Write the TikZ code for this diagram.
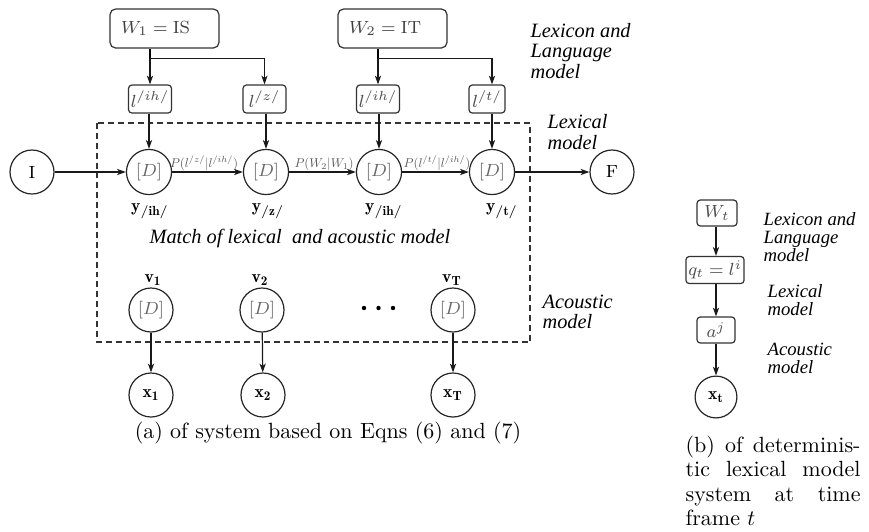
\documentclass[tikz,border=0pt]{standalone}
\usepackage{graphicx}
\usepackage{fontspec}
\newfontfamily\tmsfont{Liberation Serif}
\usetikzlibrary{arrows.meta}
\begin{document}
\begin{tikzpicture}[x=0.4545pt,y=-0.4545pt,
  line width=0.55pt,
  tip/.tip={Stealth[length=4pt,width=2.8pt,inset=1.1pt]},
  conn/.style={-tip, draw=black!90},
  lbl/.style={font=\tmsfont\itshape\fontsize{9.25}{9.2}\selectfont, align=left, inner sep=0pt, anchor=west},
  rlbl/.style={font=\tmsfont\itshape\fontsize{8.5}{8.2}\selectfont, align=left, inner sep=0pt, anchor=west},
  wbox/.style={draw=black!80, rounded corners=2.5pt, minimum height=17.7pt, text width=39.5pt, align=left, inner xsep=5pt, font=\footnotesize, text=black!75},
  lbox/.style={draw=black!80, rounded corners=1.5pt, minimum width=19.5pt, minimum height=12.7pt, inner sep=1pt, font=\footnotesize, text=black!70},
  dnode/.style={draw=black!85, circle, minimum size=20.5pt, inner sep=0pt, font=\footnotesize, text=black!60},
  onode/.style={draw=black!85, circle, minimum size=20pt, inner sep=0pt, font=\footnotesize},
  plab/.style={text=black!65, inner sep=0.5pt, anchor=base},
  ylab/.style={font=\footnotesize, inner sep=0pt},
  rbox/.style={draw=black!80, rounded corners=1.5pt, minimum height=11.8pt, inner sep=1pt, font=\footnotesize, text=black!70},
  capb/.style={font=\fontsize{10}{11}\selectfont, inner sep=0pt, anchor=base west},
]
\useasboundingbox (0,0) rectangle (869,531);

% ---------- left diagram ----------
\node[wbox] (w1) at (164.5,28.5) {$W_1 = \mathrm{IS}$};
\node[wbox] (w2) at (392.5,28.5) {$W_2 = \mathrm{IT}$};

\node[lbox] (l1) at (150,99) {$l^{/ih/}$};
\node[lbox] (l2) at (264.5,99) {$l^{/z/}$};
\node[lbox] (l3) at (378,99) {$l^{/ih/}$};
\node[lbox, minimum width=16.4pt] (l4) at (487,99) {$l^{/t/}$};

\node[onode] (i) at (32,172) {I};
\node[dnode] (d1) at (149,172) {$[D]$};
\node[dnode] (d2) at (266,172) {$[D]$};
\node[dnode] (d3) at (379,172) {$[D]$};
\node[dnode] (d4) at (492,172) {$[D]$};
\node[onode] (f) at (612,172) {F};

\draw[dash pattern=on 2.7pt off 1.8pt, black!80, line width=0.5pt] (97,123) rectangle (530,342);

\draw (w1.south -| l1.north) -- ++(0,10) coordinate (b1);
\draw[conn] (b1) -- (l1.north);
\draw[conn] (b1) -| (l2.north);
\draw (w2.south -| l3.north) -- ++(0,10) coordinate (b2);
\draw[conn] (b2) -- (l3.north);
\draw[conn] (b2) -| (l4.north -| d4);

\draw[conn] (l1.south -| d1) -- (d1.north);
\draw[conn] (l2.south -| d2) -- (d2.north);
\draw[conn] (l3.south -| d3) -- (d3.north);
\draw[conn] (l4.south -| d4) -- (d4.north);

\draw[conn] (i) -- (d1);
\draw[conn] (d1) -- (d2);
\draw[conn] (d2) -- (d3);
\draw[conn] (d3) -- (d4);
\draw[conn] (d4) -- (f);

\node[plab] (p1) at (204,167.5) {\scalebox{0.58}{$P(l^{/z/}|l^{/ih/})$}};
\node[plab] (p2) at (324,167.5) {\scalebox{0.58}{$P(W_2|W_1)$}};
\node[plab] (p3) at (437,167.5) {\scalebox{0.58}{$P(l^{/t/}|l^{/ih/})$}};

\node[ylab] (y1) at (150,211) {$\mathbf{y}_{/\mathbf{ih}/}$};
\node[ylab] (y2) at (268,211) {$\mathbf{y}_{/\mathbf{z}/}$};
\node[ylab] (y3) at (384,211) {$\mathbf{y}_{/\mathbf{ih}/}$};
\node[ylab] (y4) at (502,211) {$\mathbf{y}_{/\mathbf{t}/}$};

\node[lbl] (lexlang) at (530,51) {Lexicon and\\Language\\model};
\node[lbl] (lexmod) at (547,132) {Lexical\\model};
\node[lbl] (acmod) at (542,312) {Acoustic\\model};
\node[lbl] (match) at (149,238) {Match of lexical \ and acoustic model};

\node[ylab] (vl1) at (153,280) {$\mathbf{v_1}$};
\node[ylab] (vl2) at (260,280) {$\mathbf{v_2}$};
\node[ylab] (vl3) at (452,280) {$\mathbf{v_T}$};

\node[dnode, minimum size=20pt] (v1) at (151,310) {$[D]$};
\node[dnode, minimum size=20pt] (v2) at (262,310) {$[D]$};
\node[dnode, minimum size=20pt] (v3) at (453,310) {$[D]$};

\fill (364,308) circle (1pt) (378.5,308) circle (1pt) (393,308) circle (1pt);

\node[onode] (x1) at (151,395) {$\mathbf{x_1}$};
\node[onode] (x2) at (263,395) {$\mathbf{x_2}$};
\node[onode] (x3) at (453,395) {$\mathbf{x_T}$};

\draw[conn] (v1) -- (x1);
\draw[conn] (v2) -- (x2);
\draw[conn] (v3) -- (x3);

\node[font=\fontsize{10}{12}\selectfont, inner sep=0pt] (capa) at (328,433) {(a) of system based on Eqns (6) and (7)};

% ---------- right diagram ----------
\node[rbox, minimum width=18.2pt] (wt) at (717,213) {$W_t$};
\node[rbox, minimum width=26.4pt, minimum height=12.3pt] (qt) at (715,270) {$q_t = l^i$};
\node[rbox, minimum width=17.3pt] (aj) at (716,330) {$a^j$};
\node[onode, minimum size=19pt] (xt) at (716,397) {$\mathbf{x_t}$};

\draw[conn] (wt.south -| xt) -- (qt.north -| xt);
\draw[conn] (qt.south -| xt) -- (aj.north -| xt);
\draw[conn] (aj.south -| xt) -- (xt.north);

\node[rlbl] (rlex) at (763,237) {Lexicon and\\Language\\model};
\node[rlbl] (rlexm) at (767,300) {Lexical\\model};
\node[rlbl] (racm) at (767,358) {Acoustic\\model};

\node[capb] (cb1) at (685,452) {\makebox[79.5pt][s]{(b) of determinis-}};
\node[capb] (cb2) at (685,476.5) {\makebox[79.5pt][s]{tic lexical model}};
\node[capb] (cb3) at (685,501) {\makebox[79.5pt][s]{system at time}};
\node[capb] (cb4) at (685,525.5) {frame $t$};
\end{tikzpicture}
\end{document}
